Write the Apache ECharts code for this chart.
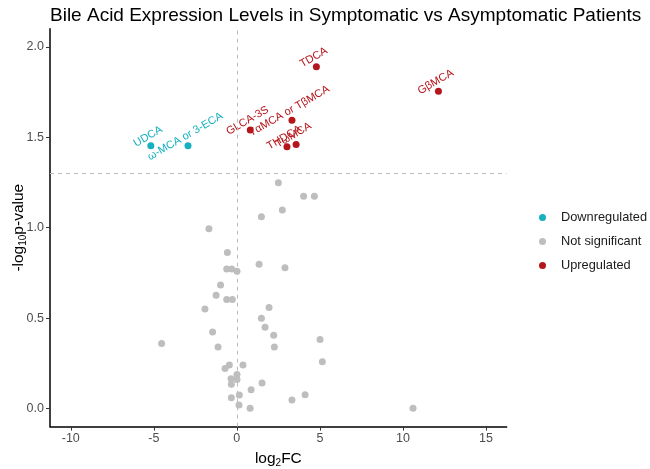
<!DOCTYPE html>
<html>
<head>
<meta charset="utf-8">
<script src="https://cdn.jsdelivr.net/npm/echarts@6/dist/echarts.min.js"></script>
<style>html,body{margin:0;padding:0;background:#fff}#c{width:650px;height:469px}</style>
</head>
<body>
<div id="c"></div>
<script>
const titleText = "Bile Acid Expression Levels in Symptomatic vs Asymptomatic Patients";
const legendNames = ["Downregulated", "Not significant", "Upregulated"];
const xTicks = [-10, -5, 0, 5, 10, 15];
const yTicks = [0, 0.5, 1, 1.5, 2];
const pThreshold = 1.301;
const fcThreshold = 0;

// Downregulated: [log2FC, -log10 p, name]
const downData = [
  [-5.18, 1.453, "UDCA"],
  [-2.94, 1.453, "ω-MCA or 3-ECA"]
];
// Upregulated
const upData = [
  [0.81, 1.541, "GLCA-3S"],
  [3.32, 1.594, "TαMCA or TβMCA"],
  [4.79, 1.890, "TDCA"],
  [12.14, 1.755, "GβMCA"],
  [3.02, 1.447, "THDCA"],
  [3.57, 1.460, "TωMCA"]
];
// Not significant
const nsData = [
  [2.50, 1.249], [4.02, 1.174], [4.67, 1.174], [2.74, 1.098], [1.48, 1.061],
  [-1.68, 0.994], [-0.57, 0.863], [-0.61, 0.772], [-0.31, 0.772], [0.01, 0.759],
  [1.34, 0.798], [2.90, 0.779], [-0.98, 0.683], [-1.25, 0.627], [-0.61, 0.603],
  [-0.27, 0.603], [-1.92, 0.551], [1.94, 0.559], [1.48, 0.499], [-1.46, 0.423],
  [1.70, 0.449], [2.22, 0.405], [-4.53, 0.360], [-1.13, 0.340], [2.26, 0.340],
  [5.01, 0.382], [5.15, 0.258], [-0.45, 0.241], [-0.71, 0.221], [0.37, 0.241],
  [0.01, 0.188], [-0.35, 0.164], [0.01, 0.160], [-0.33, 0.134], [1.52, 0.141],
  [0.86, 0.104], [-0.33, 0.060], [0.15, 0.075], [4.11, 0.076], [3.32, 0.047],
  [0.13, 0.019], [0.80, 0.002], [10.61, 0.002]
];

const FONT = "Liberation Sans, Arial, sans-serif";
const colDown = "#17B0BF";
const colUp = "#B5161B";
const colNs = "#BEBEBE";

const chart = echarts.init(document.getElementById('c'), null, {renderer: 'canvas'});

function labelCfg(color) {
  return {
    show: true,
    formatter: p => p.data[2],
    position: 'top',
    distance: 1,
    rotate: 30,
    color: color,
    fontFamily: FONT,
    fontSize: 11
  };
}

chart.setOption({
  animation: false,
  textStyle: {fontFamily: FONT},
  title: {
    text: titleText,
    left: 45,
    top: 1,
    textStyle: {fontFamily: FONT, fontSize: 19, fontWeight: 'normal', color: '#000'}
  },
  legend: {
    data: legendNames,
    orient: 'vertical',
    left: 534, top: 206,
    itemWidth: 7, itemHeight: 7, itemGap: 11,
    icon: 'circle',
    textStyle: {fontFamily: FONT, fontSize: 12.8, color: '#1a1a1a', padding: [0, 0, 0, 10]}
  },
  grid: {left: 50, right: 143.3, top: 28.8, bottom: 42.4, containLabel: false, outerBoundsMode: 'none'},
  xAxis: {
    type: 'value', min: -11.25, max: 16.25,
    name: 'log{s|2}FC', nameLocation: 'middle', nameGap: 23, nameMoveOverlap: false,
    nameTextStyle: {fontFamily: FONT, fontSize: 15.5, color: '#000',
      rich: {s: {fontSize: 10, verticalAlign: 'bottom', padding: [9, 0, 0, 0], fontFamily: FONT, color: '#000'}}},
    axisLine: {show: true, onZero: false, lineStyle: {color: '#000', width: 1.5}},
    axisTick: {show: true, length: 4, customValues: xTicks, lineStyle: {color: '#333'}},
    axisLabel: {customValues: xTicks, color: '#4d4d4d', fontSize: 12.5, fontFamily: FONT, margin: 5},
    splitLine: {show: false}
  },
  yAxis: {
    type: 'value', min: -0.1, max: 2.1,
    name: '-log{s|10}p-value', nameLocation: 'middle', nameGap: 22, nameRotate: 90, nameMoveOverlap: false,
    nameTextStyle: {fontFamily: FONT, fontSize: 15.5, color: '#000',
      rich: {s: {fontSize: 10, verticalAlign: 'bottom', padding: [9, 0, 0, 0], fontFamily: FONT, color: '#000'}}},
    axisLine: {show: true, onZero: false, lineStyle: {color: '#000', width: 1.5}},
    axisTick: {show: true, length: 4, customValues: yTicks, lineStyle: {color: '#333'}},
    axisLabel: {customValues: yTicks, color: '#4d4d4d', fontSize: 12.5, fontFamily: FONT, margin: 6,
      formatter: v => v.toFixed(1)},
    splitLine: {show: false}
  },
  series: [
    {
      name: 'Not significant', type: 'scatter', data: nsData,
      symbolSize: 7, itemStyle: {color: colNs, opacity: 1},
      markLine: {
        silent: true, symbol: ['none', 'none'], label: {show: false},
        lineStyle: {type: [4, 4], color: '#bdbdbd', width: 1},
        data: [{xAxis: fcThreshold}, {yAxis: pThreshold}]
      },
      z: 2
    },
    {
      name: 'Downregulated', type: 'scatter', data: downData,
      symbolSize: 7, itemStyle: {color: colDown, opacity: 1},
      label: labelCfg(colDown), labelLayout: {hideOverlap: false}, z: 3
    },
    {
      name: 'Upregulated', type: 'scatter', data: upData,
      symbolSize: 7, itemStyle: {color: colUp, opacity: 1},
      label: labelCfg(colUp), labelLayout: {hideOverlap: false}, z: 3
    }
  ]
});
</script>
</body>
</html>
